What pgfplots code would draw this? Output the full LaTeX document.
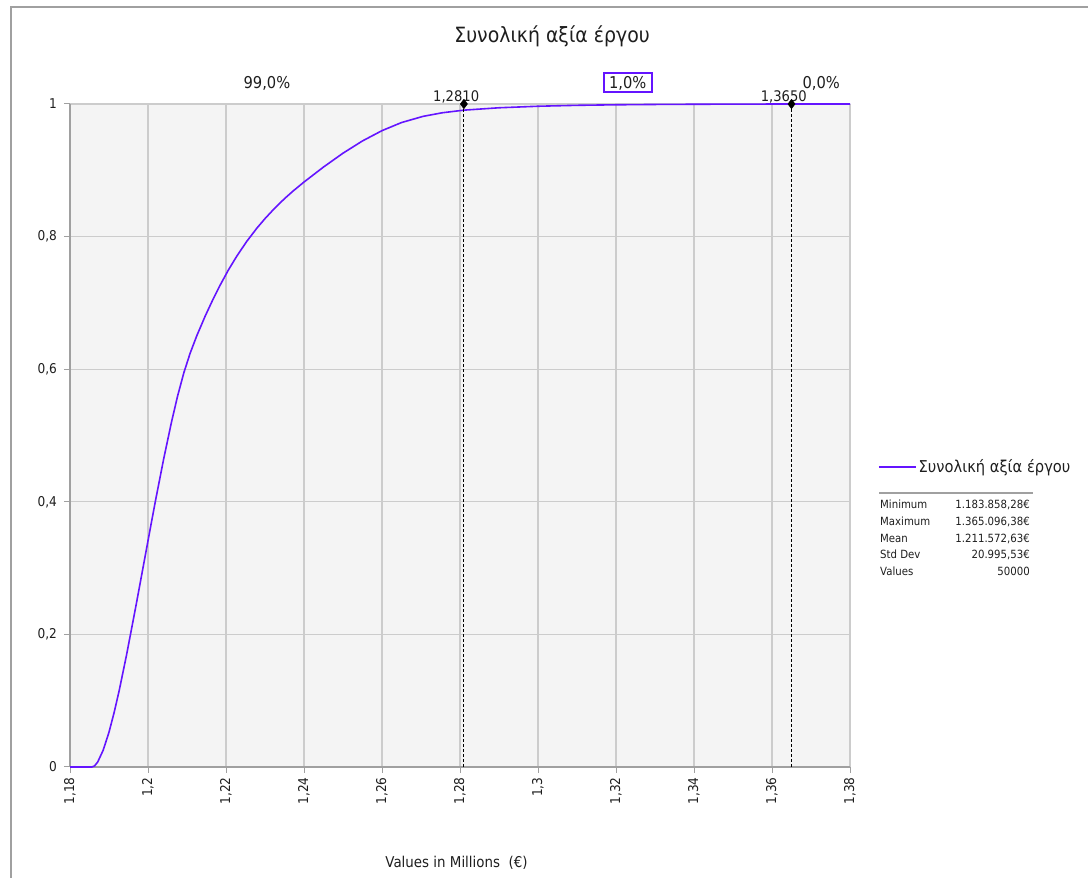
\documentclass[border=0pt]{standalone}
\usepackage{fontspec}
\setmainfont[FakeStretch=0.9]{DejaVu Sans}
\usepackage{pgfplots}
\pgfplotsset{compat=1.18}

\definecolor{curve}{RGB}{100,20,255}
\definecolor{plotbg}{RGB}{244,244,244}
\definecolor{gridc}{RGB}{204,204,204}
\definecolor{axisc}{RGB}{160,160,160}
\definecolor{txt}{RGB}{30,30,30}
\newcommand{\fs}[1]{\fontsize{#1}{#1}\selectfont}

% cumulative distribution of the simulated total value (millions EUR)
\pgfplotstableread{
v p
1.1800 0
1.1856 0
1.1863 0.0016
1.1871 0.0075
1.1885 0.0252
1.1900 0.0525
1.1913 0.0818
1.1926 0.1149
1.1945 0.1690
1.1970 0.2459
1.1995 0.3253
1.2008 0.3666
1.2020 0.4041
1.2040 0.4641
1.2060 0.5196
1.2076 0.5598
1.2092 0.5948
1.2108 0.6240
1.2125 0.6503
1.2147 0.6806
1.2166 0.7045
1.2185 0.7268
1.2206 0.7495
1.2228 0.7708
1.2253 0.7926
1.2279 0.8126
1.2300 0.8271
1.2324 0.8423
1.2350 0.8572
1.2372 0.8687
1.2400 0.8823
1.2450 0.9049
1.2500 0.9258
1.2550 0.9443
1.2600 0.9598
1.2650 0.9720
1.2705 0.9813
1.2755 0.9868
1.2810 0.9907
1.2900 0.9943
1.3000 0.9966
1.3100 0.9980
1.3200 0.9988
1.3300 0.9993
1.3400 0.9996
1.3500 0.9998
1.3651 1.0
1.3800 1.0
}\cdf

\begin{document}
\begin{tikzpicture}
\useasboundingbox (0pt,0pt) rectangle (1088pt,878pt);
% window frame
\draw[axisc, line width=1.5pt] (11pt,0pt) -- (11pt,871pt) -- (1088pt,871pt);

\begin{axis}[
  at={(70pt,111pt)}, anchor=south west,
  scale only axis, width=780pt, height=663pt,
  xmin=1.18, xmax=1.38, ymin=0, ymax=1,
  xtick={1.18,1.2,1.22,1.24,1.26,1.28,1.3,1.32,1.34,1.36,1.38},
  ytick={0,0.2,0.4,0.6,0.8,1},
  axis lines=left,
  axis line style={-, axisc, line width=1.6pt},
  axis background/.style={fill=plotbg},
  grid=major,
  major grid style={gridc, line width=1.2pt},
  tick align=outside, major tick length=6pt,
  tick style={axisc, line width=1pt},
  every tick label/.append style={txt, font=\fs{13.5}},
  xticklabel style={rotate=90, anchor=east, xshift=-1pt},
  yticklabel style={xshift=-3.5pt},
  /pgf/number format/.cd, use comma, assume math mode=true, 1000 sep={},
  /pgfplots/.cd,
  clip=false,
  title={Συνολική αξία έργου},
  title style={at={(axis description cs:0.618,1)}, anchor=center, yshift=62pt, font=\fs{21}, txt},
  xlabel={Values in Millions~~(€)},
  xlabel style={at={(axis description cs:0.4955,0)}, anchor=center, yshift=-96pt, font=\fs{14.9}, txt},
  legend style={at={(axis description cs:1.0359,0.4525)}, anchor=west,
    draw=none, fill=none, inner sep=0pt, font=\fs{16.3}, text=txt,
    /tikz/every even column/.append style={column sep=0pt}},
  legend cell align=left,
  legend image code/.code={\draw[#1, line width=1.5pt] (0pt,0pt) -- (37pt,0pt);},
]
\addplot[curve, line width=1.6pt] table[x=v, y=p] {\cdf};
\addlegendentry{Συνολική αξία έργου}

% percentile markers
\addplot[black, line width=1pt, dash pattern=on 3pt off 2pt, forget plot] coordinates {(1.281,0) (1.281,1)};
\addplot[black, line width=1pt, dash pattern=on 3pt off 2pt, forget plot] coordinates {(1.365,0) (1.365,1)};
\addplot[only marks, mark=diamond*, mark size=4.8pt, black, forget plot] coordinates {(1.281,1) (1.365,1)};

\node[anchor=base, xshift=-7.7pt, yshift=2.3pt, font=\fs{14.6}, txt] at (axis cs:1.281,1) {1,2810};
\node[anchor=base, xshift=-7.7pt, yshift=2.3pt, font=\fs{14.6}, txt] at (axis cs:1.365,1) {1,3650};

% share of values in each band
\node[font=\fs{16.3}, txt] at (axis cs:1.2305,1) [yshift=21pt] {99,0\%};
\node[font=\fs{16.3}, txt, draw=curve, line width=2pt, minimum width=48pt, minimum height=19pt, inner sep=0pt] at (axis cs:1.323,1) [yshift=21pt] {1,0\%};
\node[font=\fs{16.3}, txt] at (axis cs:1.3726,1) [yshift=21pt] {0,0\%};
\end{axis}

% summary statistics under the legend
\draw[axisc, line width=2pt] (879pt,385.3pt) -- (1033pt,385.3pt);
\foreach \y/\a/\b in {369/Minimum/{1.183.858,28€},
                      352.3/Maximum/{1.365.096,38€},
                      335.7/Mean/{1.211.572,63€},
                      319/Std Dev/{20.995,53€},
                      302.3/Values/{50000}}{
  \node[anchor=base west, inner sep=0pt, font=\fs{11.3}, txt] at (880pt,\y pt) {\a};
  \node[anchor=base east, inner sep=0pt, font=\fs{11.3}, txt] at (1030pt,\y pt) {\b};
}
\end{tikzpicture}
\end{document}
